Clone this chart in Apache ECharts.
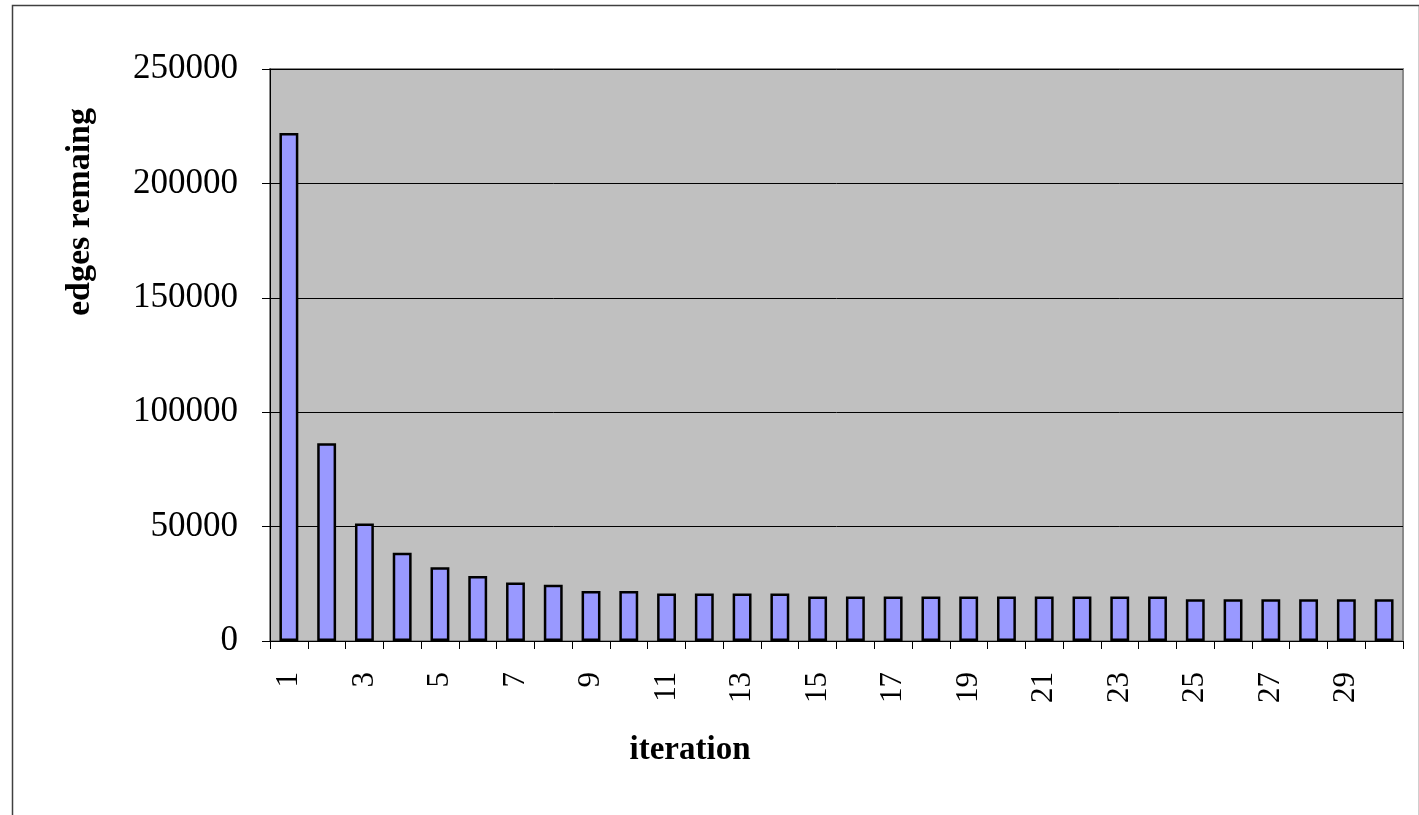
<!DOCTYPE html>
<html>
<head>
<meta charset="utf-8">
<script src="https://cdn.jsdelivr.net/npm/echarts@6/dist/echarts.min.js"></script>
<style>
html,body{margin:0;padding:0;background:#fff;}
#c{width:1419px;height:815px;}
</style>
</head>
<body>
<div id="c"></div>
<script>
const categories = ['1','2','3','4','5','6','7','8','9','10','11','12','13','14','15','16','17','18','19','20','21','22','23','24','25','26','27','28','29','30'];
const edgesRemaining = [222000, 86400, 51400, 38600, 32200, 28400, 25600, 24600, 21900, 21900,
  20800, 20800, 20800, 20800, 19400, 19400, 19400, 19400, 19400, 19400,
  19400, 19400, 19400, 19400, 18200, 18200, 18200, 18200, 18200, 18200];
const yTicks = { min: 0, max: 250000, interval: 50000 };
const xTitle = 'iteration';
const yTitle = 'edges remaing';

const chart = echarts.init(document.getElementById('c'), null, { renderer: 'canvas' });
const serif = '"Liberation Serif", "Times New Roman", serif';
chart.setOption({
  animation: false,
  backgroundColor: '#ffffff',
  grid: {
    left: 270, top: 69, width: 1133, height: 572,
    show: true, backgroundColor: '#C0C0C0', borderColor: '#8a8a8a', borderWidth: 2
  },
  xAxis: {
    type: 'category',
    data: categories,
    boundaryGap: true,
    axisLine: { show: true, lineStyle: { color: '#000', width: 1 } },
    axisTick: { show: true, interval: 0, length: 8, lineStyle: { color: '#000' } },
    axisLabel: { interval: 1, rotate: 90, margin: 31, fontFamily: serif, fontSize: 31, color: '#000' },
    splitLine: { show: false }
  },
  yAxis: {
    type: 'value',
    min: yTicks.min, max: yTicks.max, interval: yTicks.interval,
    axisLine: { show: true, lineStyle: { color: '#000', width: 1 } },
    axisTick: { show: true, length: 8, lineStyle: { color: '#000' } },
    axisLabel: { margin: 32, fontFamily: serif, fontSize: 35, color: '#000', formatter: v => String(v) },
    splitLine: { show: true, lineStyle: { color: '#000', width: 1 } }
  },
  series: [{
    type: 'bar',
    data: edgesRemaining,
    barWidth: '50%',
    itemStyle: { color: '#9999FF', borderColor: '#000', borderWidth: 2.5 }
  }],
  graphic: [
    { type: 'rect', left: 10, top: 3, shape: { width: 1407, height: 840 }, style: { fill: 'none', stroke: '#404040', lineWidth: 1.5 }, silent: true, z: -1 },
    { type: 'text', x: 80, y: 212, rotation: Math.PI / 2,
      style: { text: yTitle, font: 'bold 34px ' + serif, fill: '#000', align: 'center', verticalAlign: 'middle' } },
    { type: 'text', x: 690, y: 750,
      style: { text: xTitle, font: 'bold 33px ' + serif, fill: '#000', align: 'center', verticalAlign: 'middle' } }
  ]
});
</script>
</body>
</html>
